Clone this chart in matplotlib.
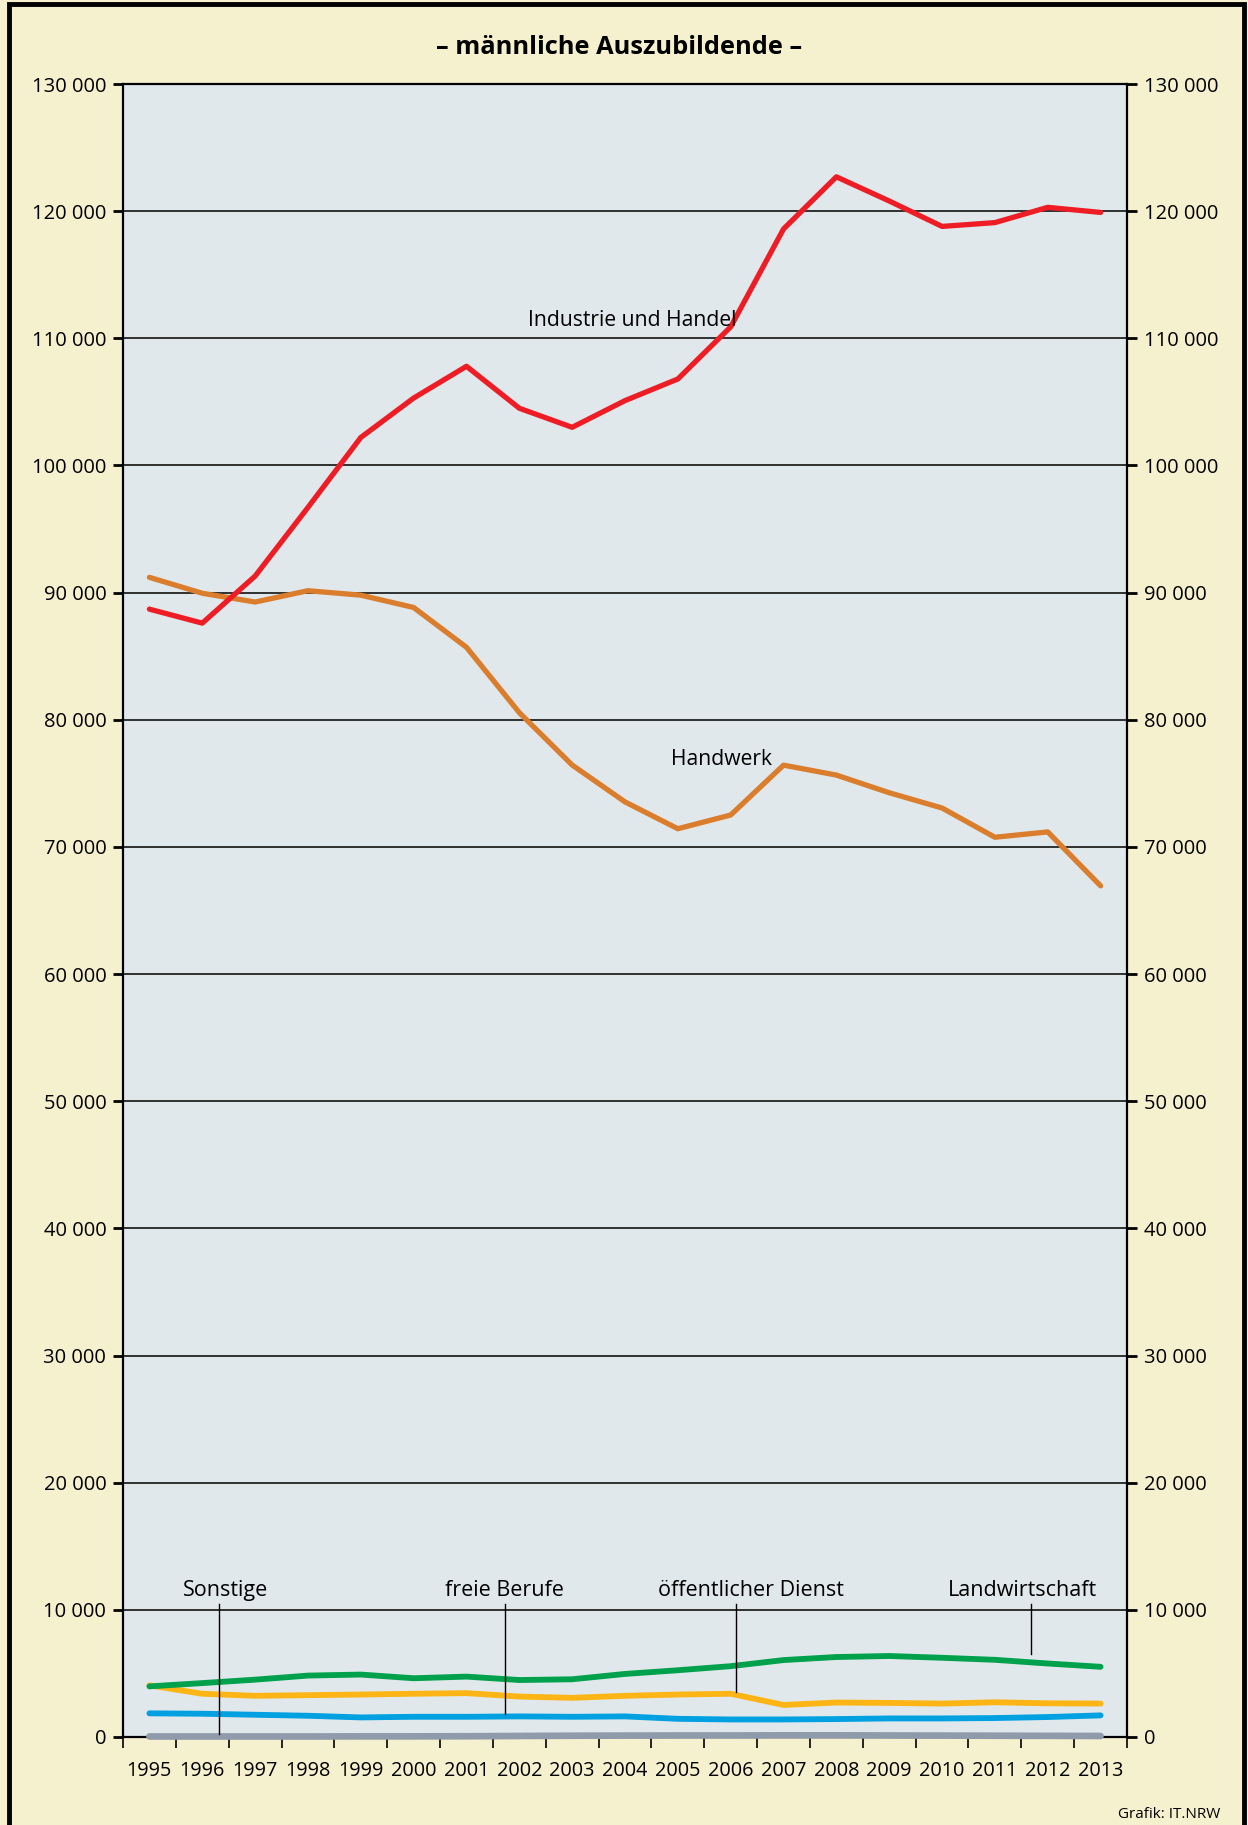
import numpy as np
import matplotlib
matplotlib.use("Agg")
import matplotlib.pyplot as plt
from matplotlib.patches import Rectangle

plt.rcParams['font.family'] = ['Open Sans', 'DejaVu Sans']

years = list(range(1995, 2014))
industrie = [88700, 87600, 91300, 96700, 102200, 105300, 107800, 104500, 103000,
             105100, 106800, 110900, 118600, 122700, 120800, 118800, 119100, 120300, 119900]
handwerk = [91200, 89950, 89260, 90150, 89800, 88830, 85700, 80560, 76440,
            73540, 71430, 72510, 76430, 75650, 74260, 73060, 70760, 71180, 66940]
landwirtschaft = [3980, 4240, 4510, 4830, 4910, 4620, 4750, 4480, 4540,
                  4960, 5250, 5570, 6050, 6290, 6370, 6230, 6070, 5780, 5520]
oeffentlich = [4060, 3400, 3240, 3290, 3340, 3400, 3450, 3180, 3080,
               3240, 3340, 3400, 2520, 2710, 2680, 2630, 2730, 2650, 2630]
freie = [1860, 1830, 1750, 1670, 1540, 1590, 1590, 1620, 1590,
         1620, 1430, 1380, 1380, 1410, 1460, 1460, 1490, 1570, 1700]
sonstige = [40, 40, 40, 40, 50, 50, 60, 80, 100,
            110, 120, 120, 130, 130, 120, 110, 100, 90, 80]

yticks = list(range(0, 130001, 10000))

BG = '#F5F0CD'
PLOT_BG = '#E1E8EB'

fig = plt.figure(figsize=(12.48, 18.25), dpi=100, facecolor=BG)
ax = fig.add_axes([123/1248, 1 - 1737/1825, (1127 - 123)/1248, (1737 - 84)/1825])
ax.set_facecolor(PLOT_BG)

x = np.arange(len(years))
ax.plot(x, sonstige, color='#8F9AAB', lw=4.8, solid_capstyle='round', zorder=4, clip_on=False)
ax.plot(x, freie, color='#00A0E1', lw=4.2, solid_capstyle='round', zorder=4)
ax.plot(x, oeffentlich, color='#FDB515', lw=4.2, solid_capstyle='round', zorder=4)
ax.plot(x, landwirtschaft, color='#00A14D', lw=4.2, solid_capstyle='round', zorder=4)
ax.plot(x, handwerk, color='#DA7D2C', lw=3.8, solid_capstyle='round', zorder=4)
ax.plot(x, industrie, color='#EE1D25', lw=3.8, solid_capstyle='round', zorder=4)

ax.set_xlim(-0.5, len(years) - 0.5)
ax.set_ylim(0, 130000)

for v in yticks[1:]:
    ax.axhline(v, color='black', lw=1.1, zorder=2)

ax.set_yticks(yticks)
ax.set_yticklabels([f"{v:,}".replace(",", " ") for v in yticks])
ax.tick_params(axis='y', left=True, right=True, labelleft=True, labelright=True,
               direction='out', length=7, width=2, pad=5, labelsize=14.5)
ax.set_xticks(np.arange(-0.5, len(years), 1.0))
ax.set_xticklabels([])
ax.set_xticks(x, minor=True)
ax.set_xticklabels([str(y) for y in years], minor=True)
ax.tick_params(axis='x', which='major', direction='out', length=8, width=1.2)
ax.tick_params(axis='x', which='minor', length=0, pad=17, labelsize=14.3)
for s in ax.spines.values():
    s.set_color('black')
    s.set_linewidth(1.6)

# series labels
ax.text(9.13, 111400, "Industrie und Handel", fontsize=15.2,
        ha='center', va='center', zorder=5)
ax.text(10.83, 76900, "Handwerk", fontsize=15.2,
        ha='center', va='center', zorder=5)

label_y = 11560
small = [("Sonstige", 1.44, 1.31, 260),
         ("freie Berufe", 6.72, 6.72, 1780),
         ("öffentlicher Dienst", 11.38, 11.11, 3500),
         ("Landwirtschaft", 16.53, 16.68, 6550)]
for txt, tx, lx, ly in small:
    ax.text(tx, label_y, txt, fontsize=15.5, ha='center', va='center', zorder=5)
    ax.plot([lx, lx], [10450, ly], color='black', lw=1.0, zorder=5)

fig.text(619.5/1248, 1 - 47.5/1825, "– männliche Auszubildende –", fontsize=18.3,
         fontweight='bold', ha='center', va='center')
fig.text(1220/1248, 1 - 1815/1825, "Grafik: IT.NRW", fontsize=11,
         ha='right', va='center')

fig.patches.append(Rectangle((9/1248, -0.05), (1244 - 9)/1248, 1.05 - 4/1825,
                             transform=fig.transFigure, fill=False,
                             edgecolor='black', lw=3.5, zorder=10))

fig.savefig('out.png', dpi=100, facecolor=BG)
